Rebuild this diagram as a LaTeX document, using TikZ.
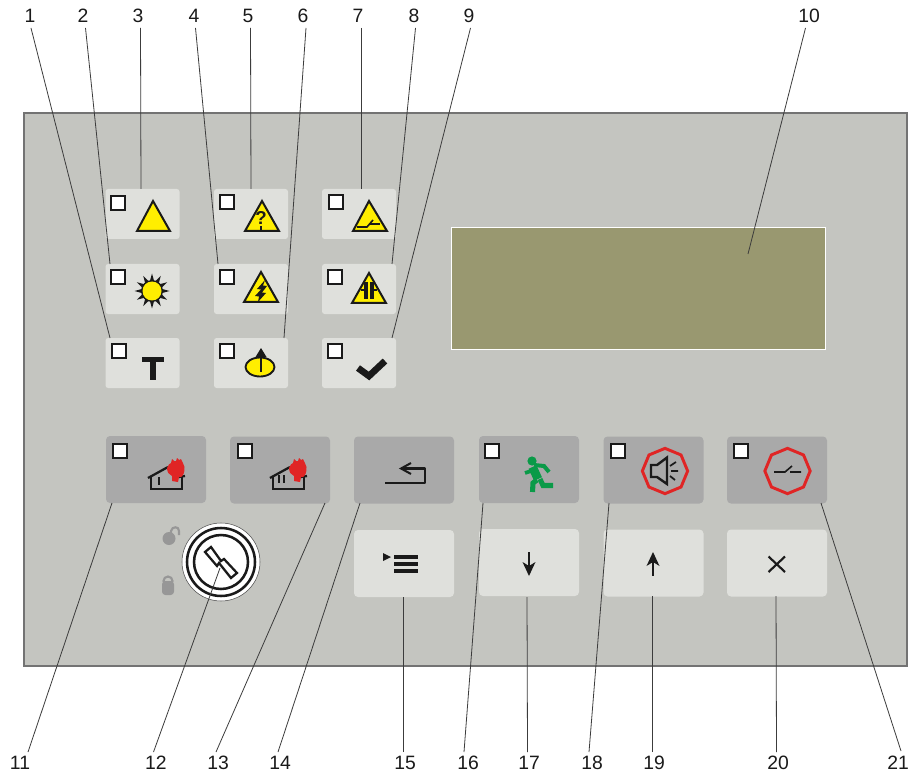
\documentclass[tikz,border=0pt]{standalone}
\usepackage{fontspec}
\setmainfont{Liberation Sans}
\usetikzlibrary{shapes.geometric}
\definecolor{panelc}{HTML}{C4C5C0}
\definecolor{lightb}{HTML}{DFE0DC}
\definecolor{darkb}{HTML}{A9A9A9}
\definecolor{disp}{HTML}{999870}
\definecolor{ylw}{HTML}{FFEE00}
\definecolor{redc}{HTML}{E02525}
\definecolor{grn}{HTML}{0A9A48}
\definecolor{ink}{HTML}{1A1A1A}
\definecolor{lockc}{HTML}{979797}
\tikzset{
 smallb/.style={fill=lightb,rounded corners=2pt,minimum width=55.5pt,minimum height=37.5pt,inner sep=0pt},
 bigl/.style={fill=lightb,rounded corners=3pt,minimum width=75pt,minimum height=50.25pt,inner sep=0pt},
 bigd/.style={fill=darkb,rounded corners=3pt,minimum width=75pt,minimum height=50.25pt,inner sep=0pt},
 led/.style={draw=ink,fill=white,line width=1.5pt,minimum size=11pt,inner sep=0pt},
 num/.style={font=\fontsize{14.5pt}{16pt}\selectfont,text=ink,inner sep=1pt},
 conn/.style={draw=ink!85,line width=0.6pt},
 tri/.style={draw=ink,fill=ylw,line width=1.5pt,line join=miter},
 sym/.style={draw=ink,line width=1.2pt},
 octo/.style={regular polygon,regular polygon sides=8,draw=redc,line width=2.2pt,minimum size=34pt,inner sep=0pt,shape border rotate=22.5},
}
\begin{document}
\begin{tikzpicture}[x=0.75pt,y=-0.75pt]
\useasboundingbox (0,0) rectangle (909,773);
\fill[white] (0,0) rectangle (909,773);
% panel and display
\node[draw=black!55,fill=panelc,line width=0.8pt,minimum width=662.25pt,minimum height=414.75pt,inner sep=0pt] (panel) at (465.5,389.5) {};
\node[draw=white,fill=disp,line width=0.9pt,minimum width=280pt,minimum height=92pt,inner sep=0pt] (display) at (638.5,288.5) {};
% small buttons
\node[smallb] (b3) at (142.5,214) {};
\node[smallb] (b5) at (251,214) {};
\node[smallb] (b7) at (359,214) {};
\node[smallb] (b2) at (142.5,289) {};
\node[smallb] (b4) at (251,289) {};
\node[smallb] (b8) at (359,289) {};
\node[smallb] (b1) at (142.5,363) {};
\node[smallb] (b6) at (251,363) {};
\node[smallb] (b9) at (359,363) {};
% big buttons
\node[bigd] (b11) at (156,469.5) {};
\node[bigd] (b13) at (280,470) {};
\node[bigd] (b14) at (404,470) {};
\node[bigd] (b16) at (529,469.5) {};
\node[bigd] (b18) at (653.5,470) {};
\node[bigd] (b21) at (777,470) {};
\node[bigl] (b15) at (404,563.5) {};
\node[bigl] (b17) at (529,562.5) {};
\node[bigl] (b19) at (653.5,563) {};
\node[bigl] (b20) at (777,563) {};
% LEDs
\foreach \n/\x/\y in {a/118/203,b/227/202,c/336/202,d/118/277,e/227/277,f/335/277,g/119/351,h/227/351,i/335/351,j/120/451,k/245/451,l/492/451,m/618/451,n/741/451}
  \node[led] (led\n) at (\x,\y) {};
% triangles
\draw[tri] (153,201) -- (137,231) -- (170,231) -- cycle;
\draw[tri] (262,201) -- (245,231) -- (279,231) -- cycle;
\draw[tri] (369,201) -- (353,231) -- (387,231) -- cycle;
\draw[tri] (261,272) -- (244,302) -- (278,302) -- cycle;
\draw[tri] (369,273) -- (352,303) -- (386,303) -- cycle;
% question mark
\node[font=\bfseries\fontsize{14pt}{14pt}\selectfont,text=ink,inner sep=0pt] (qm) at (261,218) {?};
\draw[sym,line width=0.9pt] (261,226) -- (261,231);
% bolt
\fill[ink] (265,280) -- (257,289) -- (261,289.5) -- (255,296) -- (259,296.5) -- (258,302) -- (266,293) -- (262,292.5) -- (267,286) -- (263,285.5) -- cycle;
% switch in triangle
\draw[sym] (357,227) -- (367,227) -- (373,220);
\draw[sym] (370,224) -- (380,224);
% capacitor
\draw[sym,line width=2.4pt] (366,282) -- (366,299);
\draw[sym,line width=2.4pt] (372,282) -- (372,299);
\draw[sym] (361,290) -- (366,290);
\draw[sym] (372,290) -- (377,290);
% sun
\begin{scope}[shift={(152,291)}]
\foreach \a in {0,30,...,330}
  \fill[ink] (\a-14:9.5) -- (\a:17.5) -- (\a+14:9.5) -- cycle;
\fill[ink] (0,0) circle [radius=11];
\fill[ylw] (0,0) circle [radius=9.5];
\end{scope}
% T
\fill[ink] (142,357) rectangle (164,362);
\fill[ink] (149.5,357) rectangle (156,380);
% ellipse with arrow
\draw[sym,fill=ylw,line width=1.4pt] (260,367) ellipse [x radius=14.5,y radius=9.5];
\draw[sym] (261,354) -- (261,372);
\fill[ink] (261,348) -- (255.5,357) -- (266.5,357) -- cycle;
% check
\draw[ink,line width=5pt,line join=miter] (358,368) -- (369,376) -- (385,361);
% houses
\foreach \dx in {0,122}{
  \begin{scope}[xshift=\dx*0.75pt]
  \draw[sym,line width=1.7pt] (148,478) -- (168,467);
  \draw[sym,line width=1.7pt] (151,477) -- (151,489) -- (182,489) -- (182,477);
  \draw[sym,line width=1.7pt] (179,477) -- (185,476);
  \fill[redc] (176,461) -- (177,458) -- (179,460) -- (181,459) .. controls (182,462) and (184,464) .. (184.5,467) .. controls (185,472) and (183,476) .. (181,477) -- (179,477) -- (178,482) -- (172,481) -- (172,476) .. controls (169,475) and (167,472) .. (167,468) .. controls (168,465) and (170,463) .. (171,463) -- (172,459) -- (174,461) -- cycle;
  \end{scope}
}
\draw[sym,line width=1.9pt] (159,477) -- (159,485);
\draw[sym,line width=1.9pt] (279,475) -- (279,483);
\draw[sym,line width=1.9pt] (284,475) -- (284,483);
% return arrow
\draw[sym,line width=2pt,line join=round] (385,483) -- (425,483) -- (425,468.5) -- (402,468.5);
\draw[sym,line width=1.5pt,line join=miter] (411,463) -- (401,468.5) -- (411,474);
% menu
\fill[ink] (383,553) -- (391,557) -- (383,561) -- cycle;
\fill[ink] (394,555) rectangle (418,558.5);
\fill[ink] (394,562) rectangle (418,565.5);
\fill[ink] (394,569) rectangle (418,572.5);
% arrows
\draw[sym,line width=1.9pt] (529,552) -- (529,570);
\fill[ink] (529,576) -- (522.5,562) -- (529,566) -- (535.5,562) -- cycle;
\draw[sym,line width=1.9pt] (653,558) -- (653,576);
\fill[ink] (653,552) -- (646.5,566) -- (653,562) -- (659.5,566) -- cycle;
\draw[sym,line width=1.6pt] (768.5,556.5) -- (785,572) (785,556.5) -- (768.5,572);
% runner
\fill[grn] (532,461) circle [radius=4.6];
\draw[grn,line width=6.5pt] (532.5,467) -- (538,479);
\draw[grn,line width=2.8pt] (525,473) -- (534,470);
\draw[grn,line width=3pt] (534,465) -- (544,466) -- (549,472);
\draw[grn,line width=3.8pt] (537,480) -- (533,483) -- (532.5,492);
\draw[grn,line width=3.8pt] (540,479) -- (543,485.5) -- (553,485.5);
% speaker octagon
\node[octo] (oa) at (665,471) {};
\draw[sym,line width=1.8pt,line join=miter] (651,465) -- (657,465) -- (667,457.5) -- (667,484) -- (657,477) -- (651,477) -- cycle;
\draw[sym,line width=1.3pt] (670,466) -- (676,462) (671,471) -- (678,471) (670,476) -- (675,480);
% switch octagon
\node[octo] (ob) at (787.5,471) {};
\draw[sym] (774,472) -- (785,472) -- (792,466) (790,472) -- (801,472);
% key switch
\draw[draw=black!70,fill=white,line width=0.4pt] (221,562) circle [radius=39];
\draw[ink,line width=1.9pt] (221,562) circle [radius=34];
\draw[ink,line width=1.9pt] (221,562) circle [radius=27];
\draw[ink,line width=1.7pt,fill=white,line join=miter] (211,547) -- (205,552) -- (217,566) -- (219,563) -- (231,578) -- (237,573) -- (224,559) -- (221,561) -- cycle;
% padlocks
\fill[lockc] (169,538.5) circle [radius=6.5];
\draw[lockc,line width=1.6pt] (171,533) -- (171,531) .. controls (172,526) and (179,526) .. (179,531) -- (179,535);
\fill[lockc,rounded corners=2.5pt] (162,581) rectangle (174,595);
\draw[lockc,line width=1.6pt] (168,581) circle [radius=4.5];
% labels
\foreach \n/\x in {1/30,2/83,3/138,4/194,5/248,6/303,7/358,8/414,9/469,10/809}
  \node[num] (l\n) at (\x,16) {\n};
\foreach \n/\x in {11/20,12/156,13/218,14/280,15/405,16/468,17/529,18/592,19/654,20/778,21/898}
  \node[num] (l\n) at (\x,763) {\n};
% connector ends
\foreach \n/\x/\y in {1/31/28,2/85.5/28,3/140.5/28,4/195.5/28,5/250.5/28,6/306/28,7/361/28,8/415.5/28,9/470.5/28,10/805.5/28,11/28/752,12/153.5/752,13/216/752,14/278/752,15/403/752,16/464/752,17/527.5/752,18/589/752,19/652/752,20/776.5/752,21/901/751}
  \coordinate (s\n) at (\x,\y);
\foreach \n/\x/\y in {1/110/338,2/110/264,3/141/189,4/218/264,5/251/189,6/284/338,7/361/189,8/392/264,9/392/338,10/748/254,11/112/503,12/220/568,13/325/503,14/360/503,15/403/597,16/483/503,17/527/597,18/609/503,19/652/596,20/776/596,21/821/503}
  \coordinate (c\n) at (\x,\y);
\foreach \n in {1,...,21}
  \draw[conn] (s\n) -- (c\n);
\end{tikzpicture}
\end{document}
